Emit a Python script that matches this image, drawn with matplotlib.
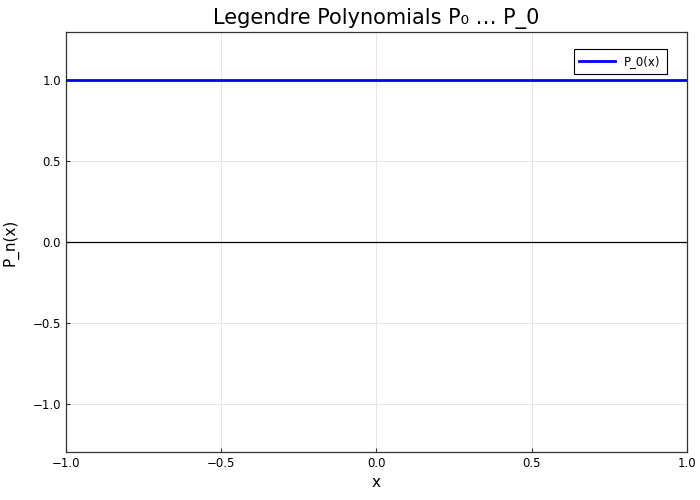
import matplotlib.pyplot as plt

# Legendre P_0 over [-1, 1]
x_vals = [-1.0, 1.0]
p0_vals = [1.0, 1.0]

xticks = [-1.0, -0.5, 0.0, 0.5, 1.0]
yticks = [-1.0, -0.5, 0.0, 0.5, 1.0]

fig = plt.figure(figsize=(7, 5), dpi=100)
ax = fig.add_axes([0.0943, 0.096, 0.887, 0.840])

ax.axhline(0, color="black", lw=0.9, zorder=2)
ax.plot(x_vals, p0_vals, color="#0000ff", lw=2, label="P_0(x)", zorder=3)

ax.set_xlim(-1.0, 1.0)
ax.set_ylim(-1.3, 1.3)
ax.set_xticks(xticks)
ax.set_yticks(yticks)
ax.set_xticklabels(["\u22121.0", "\u22120.5", "0.0", "0.5", "1.0"])
ax.set_yticklabels(["\u22121.0", "\u22120.5", "0.0", "0.5", "1.0"])
ax.tick_params(direction="in", length=3, labelsize=8.5, color="#333333")
ax.grid(True, color="#e6e6e6", lw=0.7, zorder=1)
ax.set_axisbelow(True)
for s in ax.spines.values():
    s.set_color("#333333")
    s.set_linewidth(0.9)

ax.set_title("Legendre Polynomials P\u2080 \u2026 P_0", fontsize=15)
ax.set_xlabel("x", fontsize=11)
ax.set_ylabel("P_n(x)", fontsize=11, labelpad=10)

leg = ax.legend(loc="upper right", fontsize=8.5, fancybox=False,
                edgecolor="black", framealpha=1, borderpad=0.5,
                handlelength=3, bbox_to_anchor=(0.977, 0.973))
leg.get_frame().set_linewidth(0.8)

fig.savefig("out.png", dpi=100)
